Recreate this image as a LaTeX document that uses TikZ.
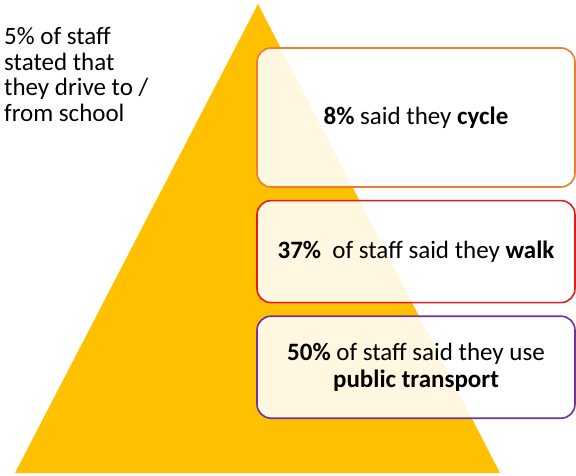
\documentclass[tikz,border=0pt]{standalone}
\usepackage{fontspec}
\setmainfont{Carlito}
\usetikzlibrary{positioning}

\definecolor{gold}{HTML}{FFC000}
\definecolor{cycleline}{HTML}{ED7D31}
\definecolor{walkline}{HTML}{E41B1B}
\definecolor{busline}{HTML}{7030A0}

\tikzset{
  stat/.style={draw,line width=1.6pt,rectangle,rounded corners=14pt,
    fill=white,fill opacity=0.88,text opacity=1,
    minimum width=318pt,align=center,
    font=\fontsize{25}{27}\selectfont},
}

\begin{document}
\begin{tikzpicture} [x=1pt,y=-1pt,node distance=12pt]
    \useasboundingbox (0,0) rectangle (576,476);
    \fill[gold] (258,4) -- (500,473) -- (15,473) -- cycle;

    \node[anchor=north west,align=left,inner sep=0pt,
      font=\fontsize{25}{25.5}\selectfont] (drive) at (4,27.5)
      {5\% of staff\\stated that\\they drive to /\\from school};

    \node[stat,draw=cycleline,minimum height=139pt] (cycle) at (416,117.5)
      {\textbf{8\%} said they \textbf{cycle}};
    \node[stat,draw=walkline,minimum height=102pt,below=of cycle] (walk)
      {\textbf{37\%}\ \ of staff said they \textbf{walk}};
    \node[stat,draw=busline,minimum height=102pt,below=of walk] (bus)
      {\textbf{50\%} of staff said they use\\\textbf{public transport}};
\end{tikzpicture}
\end{document}
